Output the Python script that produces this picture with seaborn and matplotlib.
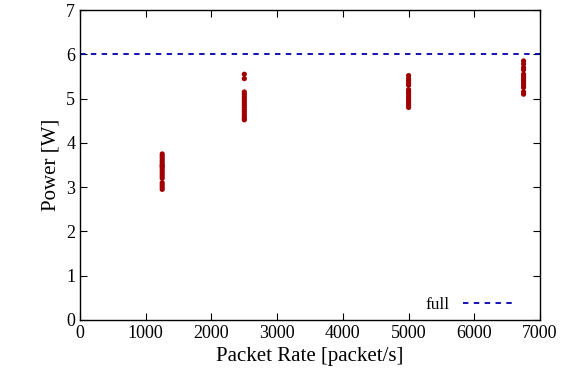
import pandas as pd
import numpy as np
import matplotlib.pyplot as plt
import seaborn as sns

rate_1250 = [3.75, 3.70, 3.65, 3.60, 3.55, 3.50, 3.48, 3.45, 3.40, 3.35, 3.30,
             3.25, 3.20, 3.10, 3.05, 3.00, 2.95]
rate_2500 = [5.55, 5.45, 5.15, 5.10, 5.05, 5.00, 4.95, 4.90, 4.85, 4.80, 4.75,
             4.70, 4.65, 4.60, 4.55, 4.52]
rate_5000 = [5.52, 5.45, 5.40, 5.35, 5.30, 5.20, 5.15, 5.10, 5.05, 5.00, 4.95,
             4.90, 4.85, 4.80]
rate_6750 = [5.85, 5.78, 5.70, 5.65, 5.55, 5.50, 5.45, 5.40, 5.35, 5.30, 5.25,
             5.15, 5.10]
full_power = 6.0

rates = [1250] * len(rate_1250) + [2500] * len(rate_2500) + \
        [5000] * len(rate_5000) + [6750] * len(rate_6750)
power = rate_1250 + rate_2500 + rate_5000 + rate_6750
df = pd.DataFrame({'rate': rates, 'power': power})

sns.set_style('ticks')
plt.rcParams['font.family'] = ['Liberation Serif', 'DejaVu Serif']
plt.rcParams['text.color'] = 'black'
plt.rcParams['axes.labelcolor'] = 'black'
plt.rcParams['xtick.color'] = 'black'
plt.rcParams['ytick.color'] = 'black'

fig = plt.figure(figsize=(5.76, 3.86), dpi=100)
ax = fig.add_axes([0.139, 0.171, 0.7985, 0.803])

sns.scatterplot(data=df, x='rate', y='power', ax=ax, color='#a00000',
                s=14, edgecolor='none', legend=False)
ax.axhline(full_power, color='#0000b0', linestyle=(0, (3, 3)), lw=1.3, label='full')

ax.set_xlim(0, 7000)
ax.set_ylim(0, 7)
ax.set_xticks(np.arange(0, 7001, 1000))
ax.set_yticks(np.arange(0, 8, 1))
ax.set_xlabel('Packet Rate [packet/s]', fontsize=15)
ax.set_ylabel('Power [W]', fontsize=15)
ax.tick_params(direction='in', top=True, right=True, labelsize=13, length=5)
for sp in ax.spines.values():
    sp.set_color('black')
    sp.set_linewidth(1.0)

ax.legend(loc='lower right', bbox_to_anchor=(0.961, 0.0), frameon=False,
          markerfirst=False, fontsize=12.5, handlelength=3.0, borderaxespad=0.0)

plt.savefig('out.png', dpi=100)
